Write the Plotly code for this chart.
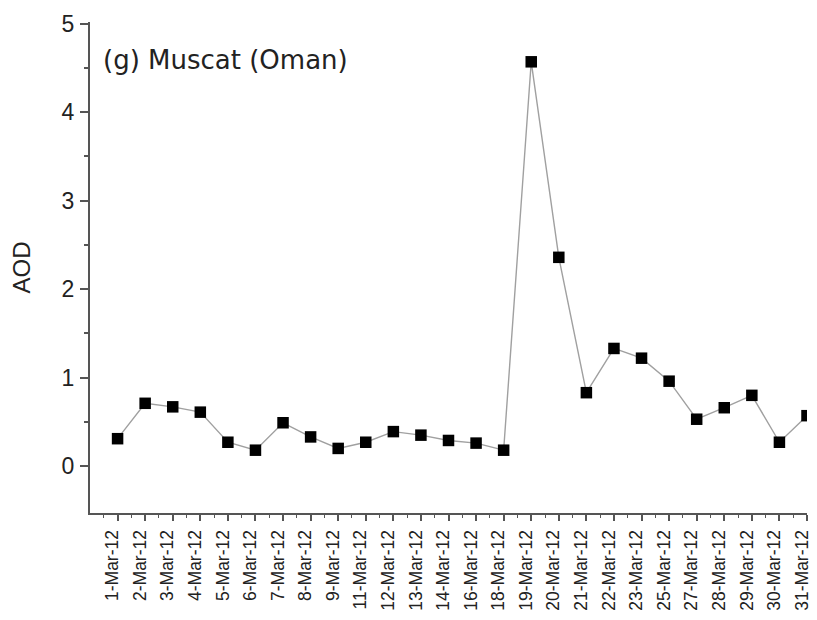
import plotly.graph_objects as go

dates = ["1-Mar-12", "2-Mar-12", "3-Mar-12", "4-Mar-12", "5-Mar-12", "6-Mar-12",
         "7-Mar-12", "8-Mar-12", "9-Mar-12", "11-Mar-12", "12-Mar-12", "13-Mar-12",
         "14-Mar-12", "16-Mar-12", "18-Mar-12", "19-Mar-12", "20-Mar-12", "21-Mar-12",
         "22-Mar-12", "23-Mar-12", "25-Mar-12", "27-Mar-12", "28-Mar-12", "29-Mar-12",
         "30-Mar-12", "31-Mar-12"]
aod = [0.31, 0.71, 0.67, 0.61, 0.27, 0.18, 0.49, 0.33, 0.20, 0.27, 0.39, 0.35,
       0.29, 0.26, 0.18, 4.57, 2.36, 0.83, 1.33, 1.22, 0.96, 0.53, 0.66, 0.80,
       0.27, 0.57]

idx = list(range(len(dates)))

fig = go.Figure()
fig.add_trace(go.Scatter(
    x=idx, y=aod, mode="lines+markers",
    line=dict(color="#a0a0a0", width=1.4),
    marker=dict(symbol="square", size=11.5, color="black"),
    cliponaxis=True, showlegend=False,
))

fig.update_layout(
    width=809, height=612,
    margin=dict(l=82, r=10, t=14, b=107),
    paper_bgcolor="white", plot_bgcolor="white",
    font=dict(family="Liberation Sans, Arial, sans-serif", color="#222"),
    xaxis=dict(
        range=[-1, 25], tickmode="array", tickvals=idx, ticktext=dates,
        tickangle=-90, tickfont=dict(size=17.5, color="#222"),
        ticklabelshift=-5, ticklabelstandoff=2,
        automargin=False,
        showgrid=False, zeroline=False, showline=True, linecolor="#555", linewidth=2,
        ticks="outside", ticklen=6, tickwidth=1.5, tickcolor="#555",
        minor=dict(tickmode="array", tickvals=[i + 0.5 for i in range(-1, 25)],
                   ticks="outside", ticklen=3, tickwidth=1.2, tickcolor="#555"),
    ),
    yaxis=dict(
        range=[-0.53, 5.02], tickvals=[0, 1, 2, 3, 4, 5],
        tickfont=dict(size=23, color="#222"),
        ticklabelstandoff=1,
        automargin=False,
        title=dict(text="AOD", font=dict(size=24, color="#222"), standoff=26),
        showgrid=False, zeroline=False, showline=True, linecolor="#555", linewidth=2,
        ticks="outside", ticklen=8, tickwidth=1.5, tickcolor="#555",
        minor=dict(tickvals=[0.5, 1.5, 2.5, 3.5, 4.5], ticks="outside",
                   ticklen=4, tickwidth=1.5, tickcolor="#555"),
    ),
    annotations=[dict(
        text="(g) Muscat (Oman)", xref="paper", yref="paper",
        x=0.016, y=0.922, xanchor="left", yanchor="middle", showarrow=False,
        font=dict(family="DejaVu Sans, Verdana, sans-serif", size=26, color="#222"),
    )],
)

fig.write_html("out.html")
